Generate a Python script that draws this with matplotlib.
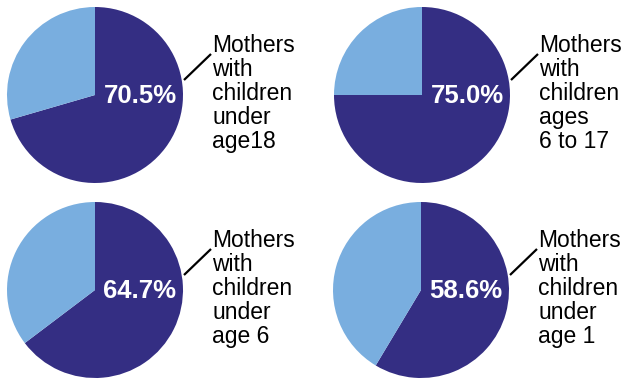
import matplotlib.pyplot as plt

# share of mothers in the labour force, by age of youngest child
shares = [70.5, 75.0, 64.7, 58.6]
labels = [
    ["Mothers", "with", "children", "under", "age18"],
    ["Mothers", "with", "children", "ages", "6 to 17"],
    ["Mothers", "with", "children", "under", "age 6"],
    ["Mothers", "with", "children", "under", "age 1"],
]

DARK = "#342e83"
LIGHT = "#79aedf"
W, H = 629, 379

# pie centres in pixel space (y measured from the top)
centres = [(95, 95), (422, 95), (95, 290), (421, 290)]
R = 88

plt.rcParams["font.family"] = ["Liberation Sans", "DejaVu Sans"]

fig = plt.figure(figsize=(W / 100, H / 100), dpi=100)
ax = fig.add_axes([0, 0, 1, 1])

for share, lines, (px, py) in zip(shares, labels, centres):
    cx, cy = px, H - py
    ax.pie([share, 100 - share], colors=[DARK, LIGHT], startangle=90,
           counterclock=False, center=(cx, cy), radius=R,
           wedgeprops=dict(linewidth=0))
    ax.text(cx + 45, cy - 1, f"{share:.1f}%", color="white", fontsize=18.5,
            fontweight="bold", ha="center", va="center")
    # leader line from the rim to the label
    ax.plot([cx + 89, cx + 116], [cy + 15, cy + 41], color="black", lw=1.6,
            solid_capstyle="butt")
    for i, line in enumerate(lines):
        ax.text(cx + 117, cy + 43 - i * 24, line, fontsize=16.5,
                ha="left", va="baseline", color="black")

ax.set_xlim(0, W)
ax.set_ylim(0, H)
ax.set_aspect("equal")
ax.axis("off")

fig.savefig("out.png", dpi=100)
